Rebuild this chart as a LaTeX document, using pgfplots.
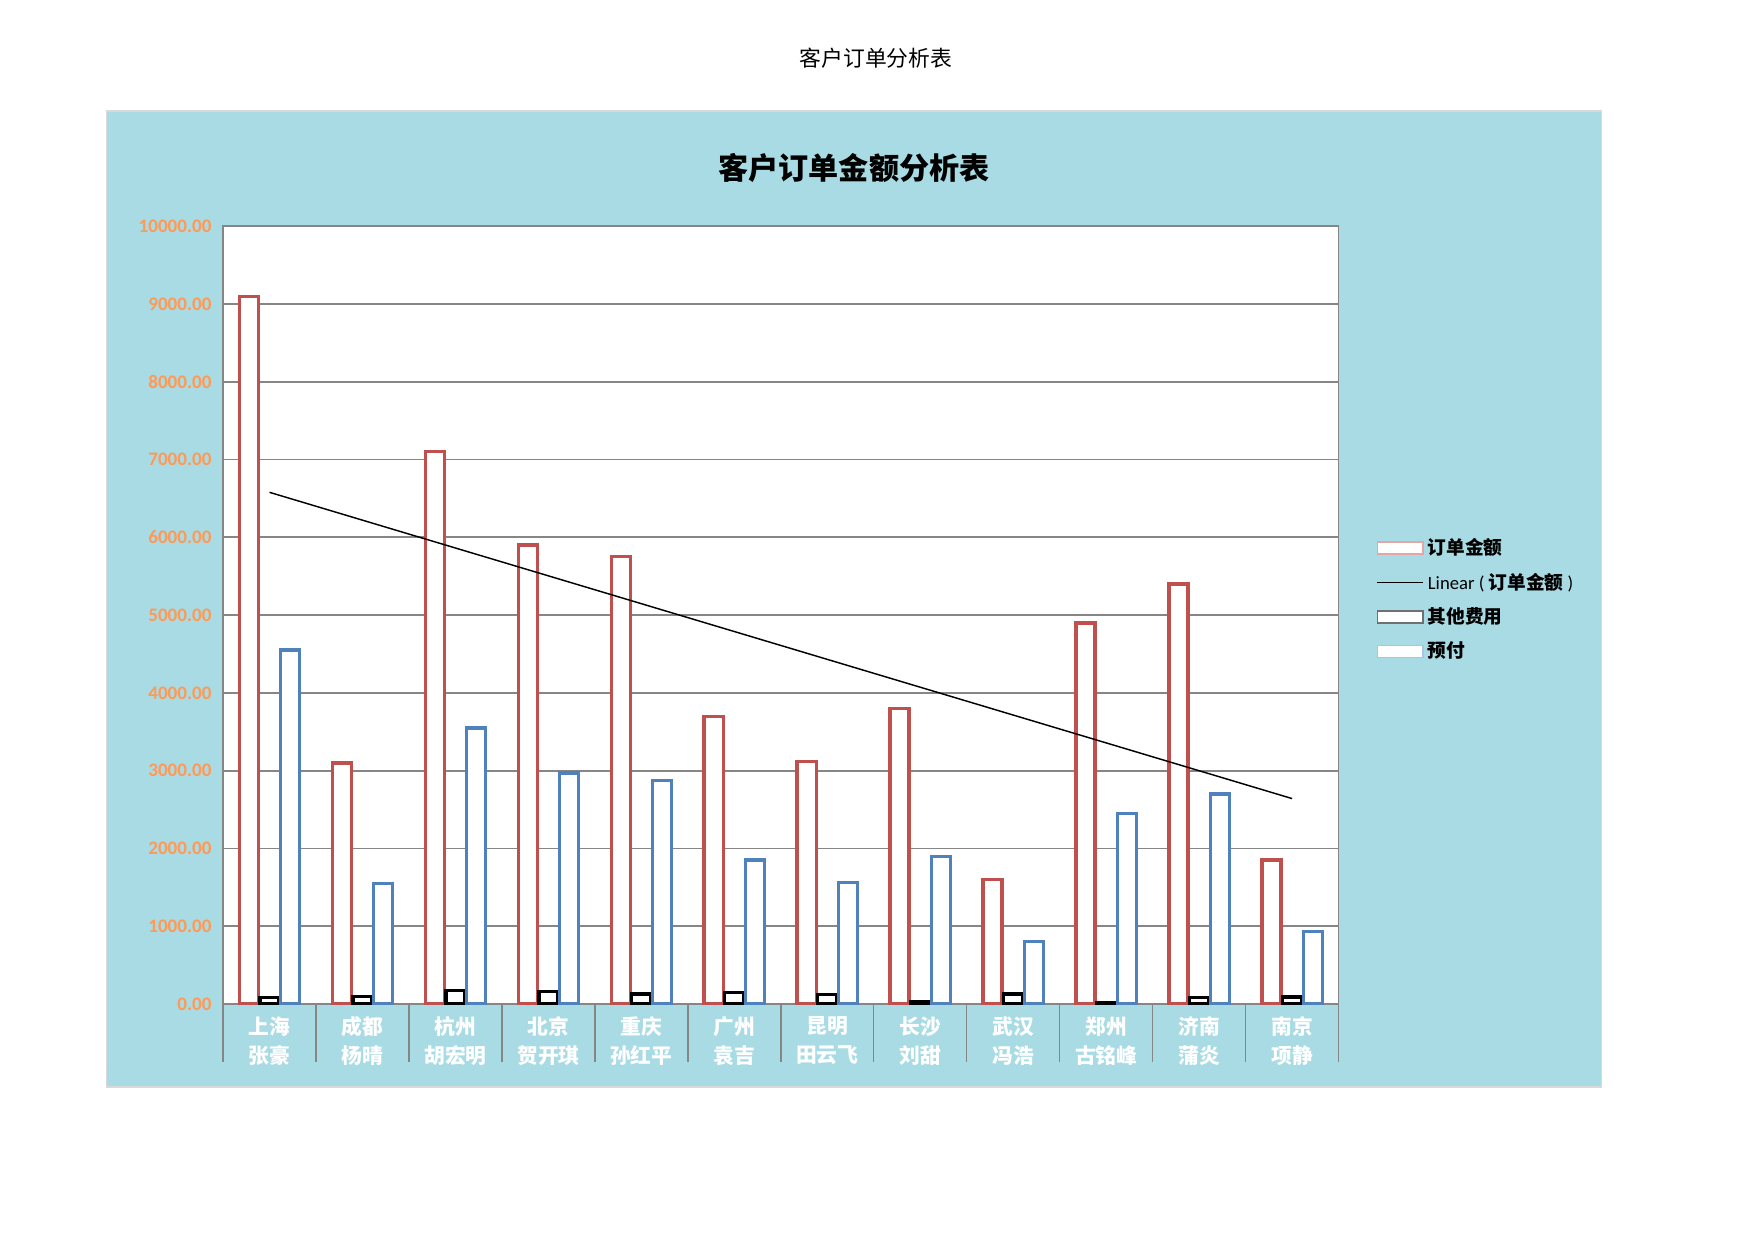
\documentclass[border=0pt]{standalone}
\usepackage{pgfplots}
\pgfplotsset{compat=1.18}
\usepackage{pgfplotstable}
\usepackage{fontspec}
\setmainfont{Carlito}
\newfontfamily\cjk{Noto Sans CJK SC}
\definecolor{bg}{RGB}{168,219,228}
\definecolor{chartborder}{RGB}{217,217,217}
\definecolor{orderred}{RGB}{192,80,77}
\definecolor{prepblue}{RGB}{79,129,189}
\definecolor{ticko}{RGB}{255,153,85}
\definecolor{gridg}{RGB}{134,134,134}
\definecolor{legred}{RGB}{230,165,165}
\definecolor{legblue}{RGB}{169,196,230}
\definecolor{leggray}{RGB}{112,112,112}

\pgfplotstableread{
x amount other prepay
0 9100 80 4550
1 3100 100 1550
2 7100 170 3550
3 5900 160 2970
4 5750 130 2870
5 3700 150 1850
6 3120 120 1560
7 3800 35 1900
8 1600 130 800
9 4900 20 2450
10 5400 80 2700
11 1850 90 930
}\datatable

\begin{document}
\begin{tikzpicture}[x=0.16933mm,y=0.16933mm]
\fill[white] (0,0) rectangle (1754,1240);
\fill[bg] (106.5,153) rectangle (1601.5,1129);
\draw[chartborder, line width=0.9pt] (106.5,153) rectangle (1601.5,1129);
\node[font=\cjk\fontsize{10.5}{12}\selectfont] at (876,1182) {客户订单分析表};
\node[font=\cjk\bfseries\fontsize{14.5}{17}\selectfont] at (854,1072) {客户订单金额分析表};
\coordinate (A) at (223,236);
\begin{axis}[
  at={(A)}, anchor=south west,
  scale only axis, width=188.9mm, height=131.7mm,
  xmin=-0.5, xmax=11.5, ymin=0, ymax=10000,
  axis background/.style={fill=white},
  axis line style={gridg, line width=0.7pt},
  ytick={0,1000,...,10000},
  scaled y ticks=false,
  ymajorgrids, grid style={gridg, line width=0.9pt},
  ytick style={draw=none},
  yticklabel style={text=ticko, font=\bfseries\fontsize{9.2}{11}\selectfont, xshift=-2pt,
    /pgf/number format/.cd, fixed, fixed zerofill, precision=2, 1000 sep={}, assume math mode=true},
  xtick={0,...,11},
  xticklabels={{上海\\张豪},{成都\\杨晴},{杭州\\胡宏明},{北京\\贺开琪},{重庆\\孙红平},{广州\\袁吉},{昆明\\田云飞},{长沙\\刘甜},{武汉\\冯浩},{郑州\\古铭峰},{济南\\蒲炎},{南京\\项静}},
  xticklabel style={align=center, text=white, font=\cjk\bfseries\fontsize{10}{14}\selectfont, yshift=-2.5pt},
  major tick length=0pt,
  minor xtick={-0.5,0.5,...,11.5},
  minor tick length=27.8pt,
  tick align=outside,
  xtick pos=bottom,
  minor x tick style={gridg, line width=0.7pt},
  legend style={at={(1.03,0.61)}, anchor=north west, draw=none, fill=none,
    font=\fontsize{9}{11}\selectfont, row sep=3.4pt, inner sep=2pt},
  legend cell align=left,
]
\addplot[ybar, bar width=0.205, bar shift=-0.222, draw=orderred, fill=white, line width=1.6pt, forget plot] table[x=x,y=amount]{\datatable};
\addplot[ybar, bar width=0.205, bar shift=0, draw=black, fill=white, line width=1.6pt, forget plot] table[x=x,y=other]{\datatable};
\addplot[ybar, bar width=0.205, bar shift=0.222, draw=prepblue, fill=white, line width=1.6pt, forget plot] table[x=x,y=prepay]{\datatable};
\addplot[black, line width=0.7pt, forget plot] table[x=x, y={create col/linear regression={y=amount}}]{\datatable};

\addlegendimage{legend image code/.code={\draw[legred, fill=white, line width=0.7pt] (0pt,-2.9pt) rectangle (22pt,2.9pt);}}
\addlegendentry{\cjk\bfseries 订单金额}
\addlegendimage{legend image code/.code={\draw[black, line width=0.7pt] (0pt,0pt) -- (22pt,0pt);}}
\addlegendentry{Linear ( {\cjk\bfseries 订单金额} )}
\addlegendimage{legend image code/.code={\draw[leggray, fill=white, line width=0.7pt] (0pt,-2.9pt) rectangle (22pt,2.9pt);}}
\addlegendentry{\cjk\bfseries 其他费用}
\addlegendimage{legend image code/.code={\draw[legblue, fill=white, line width=0.7pt] (0pt,-2.9pt) rectangle (22pt,2.9pt);}}
\addlegendentry{\cjk\bfseries 预付}
\end{axis}
\end{tikzpicture}
\end{document}
